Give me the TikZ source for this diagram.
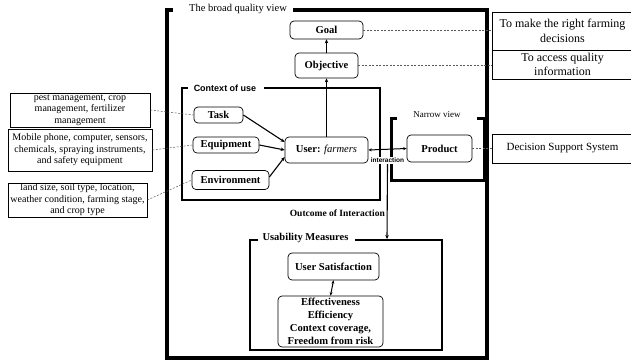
\documentclass[tikz,border=0pt]{standalone}
\usepackage{fontspec}
\setmainfont{Liberation Serif}
\setsansfont{Liberation Sans}
\usetikzlibrary{arrows.meta,calc}

\begin{document}
\begin{tikzpicture}[x=1pt,y=-1pt,
  rbox/.style={draw, rounded corners=4pt, line width=0.7pt, inner sep=0pt, align=center,
    font=\fontsize{10.6}{13}\selectfont\bfseries},
  note/.style={draw, line width=0.6pt, inner sep=0pt, align=center,
    font=\fontsize{10}{11.5}\selectfont},
  bignote/.style={note, font=\fontsize{12}{14.5}\selectfont},
  link/.style={dashed, dash pattern=on 2pt off 1.5pt, line width=0.5pt, draw=black!65},
  flow/.style={line width=1.1pt, -{Stealth[length=4pt,width=3.5pt]}},
  both/.style={line width=1pt, {Stealth[length=3.5pt,width=3pt]}-{Stealth[length=3.5pt,width=3pt]}},
  outerframe/.style={line width=3.5pt},
  ctxframe/.style={line width=2pt},
  narrowframe/.style={line width=3pt},
  umframe/.style={line width=1.2pt},
]
\useasboundingbox (0,0) rectangle (631,361);

% broad quality view
\draw[outerframe] (173,10) -- (167,10) -- (167,358) -- (487,358) -- (487,10) -- (293,10);
\node[font=\fontsize{10.5}{12}\selectfont] (broad) at (238,9) {The broad quality view};

% context of use
\draw[ctxframe] (188,88) -- (182,88) -- (182,200) -- (380,200) -- (380,88) -- (264,88);
\node[font=\sffamily\bfseries\fontsize{9}{10}\selectfont] (ctx) at (225,88) {Context of use};

% narrow view
\draw[narrowframe] (397,118) -- (391,118) -- (391,180) -- (484,180) -- (484,118) -- (477,118);
\node[font=\fontsize{9}{10}\selectfont] (narrow) at (437,115) {Narrow view};

% usability measures
\draw[umframe] (258,240) -- (250,240) -- (250,350) -- (442,350) -- (442,240) -- (355,240);
\node[font=\fontsize{10.5}{12}\selectfont\bfseries] (um) at (305.5,238) {Usability Measures};
\coordinate (umtop) at (387,239);

% goals
\node[rbox, minimum width=73pt, minimum height=18pt] (goal) at (326.5,30) {Goal};
\node[rbox, minimum width=63pt, minimum height=25pt] (obj) at (326.5,65.5) {Objective};

% context elements
\node[rbox, minimum width=49pt, minimum height=16pt] (task) at (218.5,115) {Task};
\node[rbox, minimum width=66pt, minimum height=16pt] (equip) at (226,145) {Equipment};
\node[rbox, minimum width=77pt, minimum height=19pt] (env) at (230.5,180) {Environment};
\node[rbox, minimum width=83pt, minimum height=26pt] (user) at (326.5,150) {User: \textnormal{\textit{farmers}}};
\node[rbox, minimum width=65pt, minimum height=27pt] (prod) at (439.5,148.5) {Product};

% interaction label
\node[fill=white, inner sep=1pt, font=\sffamily\bfseries\fontsize{6.5}{7}\selectfont] (inter) at (387.5,160.5) {interaction};
\node[anchor=east, inner sep=0pt, font=\fontsize{9.5}{10}\selectfont\bfseries] (outcome) at (385,213) {Outcome of Interaction};

% measures
\node[rbox, minimum width=91pt, minimum height=27pt] (usat) at (333.5,266.5) {User Satisfaction};
\node[rbox, minimum width=105pt, minimum height=51pt, font=\fontsize{10.6}{13}\selectfont\bfseries] (meas) at (330.5,321.5)
  {Effectiveness\\Efficiency\\Context coverage,\\Freedom from risk};

% descriptions on the left
\node[note, minimum width=140pt, minimum height=34pt] (d1) at (80,110)
  {pest management, crop\\management, fertilizer\\management};
\node[note, minimum width=144pt, minimum height=42pt] (d2) at (80,150)
  {Mobile phone, computer, sensors,\\chemicals, spraying instruments,\\and safety equipment};
\node[note, minimum width=139pt, minimum height=34pt] (d3) at (77.5,200)
  {land size, soil type, location,\\weather condition, farming stage,\\and crop type};

% descriptions on the right
\node[bignote, minimum width=141pt, minimum height=38pt] (r1) at (562.5,31)
  {To make the right farming\\decisions};
\node[bignote, minimum width=141pt, minimum height=29pt] (r2) at (562.5,64.5)
  {To access quality\\information};
\node[note, font=\fontsize{11}{13}\selectfont, minimum width=141pt, minimum height=29pt] (dss) at (562.5,148.5)
  {Decision Support System};

% dashed links
\draw[link] (d1.east) -- (task.west);
\draw[link] (d2.east) -- (equip.west);
\draw[link] (d3.east) -- (env.west);
\draw[link] (goal.east) -- (goal.east -| r1.west);
\draw[link] (obj.east) -- (obj.east -| r2.west);
\draw[link] (prod.east) -- (dss.west);

% arrows
\draw[flow] (obj.north) -- (goal.south);
\draw[flow] (user.north) -- (obj.south);
\draw[flow] (task.east) -- ([yshift=8pt]user.west);
\draw[flow] (equip.east) -- (user.west);
\draw[flow] ([yshift=3pt]env.east) -- ([yshift=-7pt]user.west);
\draw[both] (user.east) -- (prod.west);
\draw[flow] (inter.south) -- (umtop);
\draw[both] (usat.south) -- (meas.north);
\end{tikzpicture}
\end{document}
